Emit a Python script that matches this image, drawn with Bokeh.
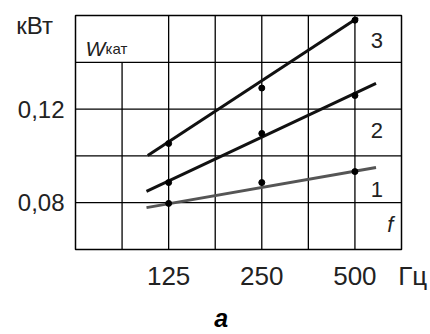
from bokeh.plotting import figure
from bokeh.models import FixedTicker, Label
from bokeh.core.properties import value
from bokeh.embed import file_html
from bokeh.resources import INLINE

NB = "\u00a0"

# ---- data ----
freq_ticks = [125, 250, 500]
freq_labels = ["125", "250", NB * 7 + "500" + NB * 3 + "Гц"]   # unit "Гц" after the last tick
w_ticks = [0.08, 0.12, 0.1557]
w_labels = ["0,08", "0,12", "кВт" + NB + "\u2009"]              # unit "кВт" at the top

grid_x = [88.39, 125, 176.78, 250, 353.55, 500]
grid_y = [0.08, 0.10, 0.12, 0.14]

pt_freq = [125, 250, 500]
pts1 = [0.0797, 0.0886, 0.0933]
pts2 = [0.0886, 0.1096, 0.1258]
pts3 = [0.1053, 0.1290, 0.1580]

line1_f = [106, 585]
line1_w = [0.0779, 0.0950]
line2_f = [106, 585]
line2_w = [0.0848, 0.1310]
line3_f = [107, 511]
line3_w = [0.1002, 0.1590]

curve_names = ["3", "2", "1", "f"]
curve_name_x = [589, 589, 589, 650]
curve_name_y = [0.1495, 0.1110, 0.0856, 0.0707]

XMIN, XMAX = 62.5, 707.1
YMIN, YMAX = 0.06, 0.16
FONT = "Liberation Sans"

p = figure(width=430, height=334, x_axis_type="log",
           x_range=(XMIN, XMAX), y_range=(YMIN, YMAX),
           output_backend="svg", toolbar_location=None,
           min_border_left=75, min_border_right=29,
           min_border_top=15, min_border_bottom=85)
p.background_fill_color = "white"
p.border_fill_color = "white"
p.outline_line_color = "black"
p.outline_line_width = 1.5
p.xgrid.visible = False
p.ygrid.visible = False

# grid (top-left cell merged for the W label)
for gx in grid_x:
    top = 0.14 if gx < 100 else YMAX
    p.segment(x0=[gx], y0=[YMIN], x1=[gx], y1=[top], line_color="black", line_width=1.3)
for gy in grid_y:
    p.segment(x0=[XMIN], y0=[gy], x1=[XMAX], y1=[gy], line_color="black", line_width=1.3)

# curves
p.line(line1_f, line1_w, line_color="#555555", line_width=3)
p.line(line2_f, line2_w, line_color="#111111", line_width=3)
p.line(line3_f, line3_w, line_color="#111111", line_width=3)
for pts in (pts1, pts2, pts3):
    p.scatter(pt_freq, pts, size=6, color="black")

p.text(x=curve_name_x, y=curve_name_y, text=curve_names,
       text_font=value(FONT), text_font_size="22px", text_color="#222222",
       text_align="center", text_baseline="middle",
       text_font_style=["normal", "normal", "normal", "italic"])

# axes
xa = p.xaxis[0]
xa.ticker = FixedTicker(ticks=freq_ticks)
xa.major_label_overrides = dict(zip(freq_ticks, freq_labels))
xa.axis_line_color = None
xa.major_tick_line_color = None
xa.minor_tick_line_color = None
xa.major_label_text_font = FONT
xa.major_label_text_font_size = "26px"
xa.major_label_text_color = "#222222"
xa.major_label_standoff = 5
xa.axis_label = "a" + NB * 5
xa.axis_label_text_font = FONT
xa.axis_label_text_font_size = "25px"
xa.axis_label_text_font_style = "bold italic"
xa.axis_label_text_color = "black"
xa.axis_label_standoff = 10

ya = p.yaxis[0]
ya.ticker = FixedTicker(ticks=w_ticks)
ya.major_label_overrides = dict(zip(w_ticks, w_labels))
ya.axis_line_color = None
ya.major_tick_line_color = None
ya.minor_tick_line_color = None
ya.major_label_text_font = FONT
ya.major_label_text_font_size = "24px"
ya.major_label_text_color = "#222222"
ya.major_label_standoff = 5

# caption inside the merged top-left cell (screen units, relative to the frame)
def lab(x, y, text, size, style="normal"):
    p.add_layout(Label(x=x, y=y, x_units="screen", y_units="screen", text=text,
                       text_font=FONT, text_font_size=size, text_font_style=style,
                       text_color="#222222", text_align="left", text_baseline="alphabetic"))

lab(10, 201, "W", "21px", "italic")
lab(30, 201, "кат", "15px")

open("out.html", "w").write(file_html(p, INLINE))
